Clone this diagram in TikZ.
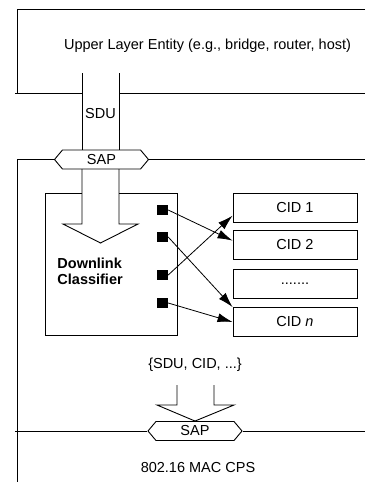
\documentclass[tikz,border=0pt]{standalone}
\usepackage{fontspec}
\setmainfont{Liberation Sans}
\usetikzlibrary{shapes.symbols,arrows.meta}
\begin{document}
\begin{tikzpicture}[
  x=1pt, y=-1pt,
  font=\fontsize{14.5}{16}\selectfont,
  sap/.style={signal, signal to=east and west, signal pointer angle=100, draw, fill=white,
    minimum width=94pt, minimum height=19pt, inner sep=0pt},
  cidbox/.style={rectangle, draw, minimum width=124pt, minimum height=29pt, inner sep=0pt},
  port/.style={rectangle, fill=black, minimum size=10.5pt, inner sep=0pt},
  link/.style={-{Latex[length=15pt,width=9pt]}, line width=0.8pt},
  line width=0.9pt
]
  \useasboundingbox (0,0) rectangle (365,482);

  % Upper layer entity
  \draw (365,9) -- (17,9) -- (17,93);
  \draw (15,93) -- (82,93);
  \draw (119,93) -- (365,93);
  \node[anchor=base] (ule) at (207.5,49) {Upper Layer Entity (e.g., bridge, router, host)};

  % SDU pipe and upper SAP
  \node[sap] (sapup) at (101.5,159.5) {SAP};
  \draw (82,73) -- (82,150);
  \draw (119,73) -- (119,150);
  \node[anchor=base] (sdu) at (100.5,118) {SDU};
  \draw (17,482) -- (17,159.5) -- (sapup.west);
  \draw (sapup.east) -- (365,159.5);

  % Downlink classifier
  \draw (82,193) -- (45,193) -- (45,335) -- (177,335) -- (177,193) -- (119,193);
  \draw (82,169) -- (82,224) -- (63,224) -- (100.5,243) -- (138,224) -- (119,224) -- (119,169);
  \node[anchor=north west, align=left, inner sep=0pt, font=\fontsize{14.5}{16}\selectfont\bfseries]
    (clf) at (57,258) {Downlink\\Classifier};

  % Classifier outputs
  \node[port] (p1) at (162.5,210) {};
  \node[port] (p2) at (162.5,237) {};
  \node[port] (p3) at (162.5,275) {};
  \node[port] (p4) at (162.5,303) {};

  % Connections
  \node[cidbox] (cid1) at (295,208) {CID 1};
  \node[cidbox] (cid2) at (295,245) {CID 2};
  \node[cidbox] (cidx) at (295,283.5) {.......};
  \node[cidbox] (cidn) at (295,322) {CID \textit{n}};
  \draw[link] (p1.east) -- (cid2.176);
  \draw[link] (p2.east) -- (cidn.north west);
  \draw[link] (p3.east) -- (cid1.187);
  \draw[link] (p4.east) -- (cidn.west);

  % Down to the MAC CPS
  \node (tuple) at (195,365) {\{SDU, CID, ...\}};
  \node[sap] (saplow) at (195,431) {SAP};
  \draw (177,385) -- (177,405) -- (157,405) -- (saplow.north) -- (234,405) -- (214,405) -- (214,385);
  \draw (15,431) -- (saplow.west);
  \draw (saplow.east) -- (365,431);
  \node (mac) at (198,468) {802.16 MAC CPS};
\end{tikzpicture}
\end{document}
